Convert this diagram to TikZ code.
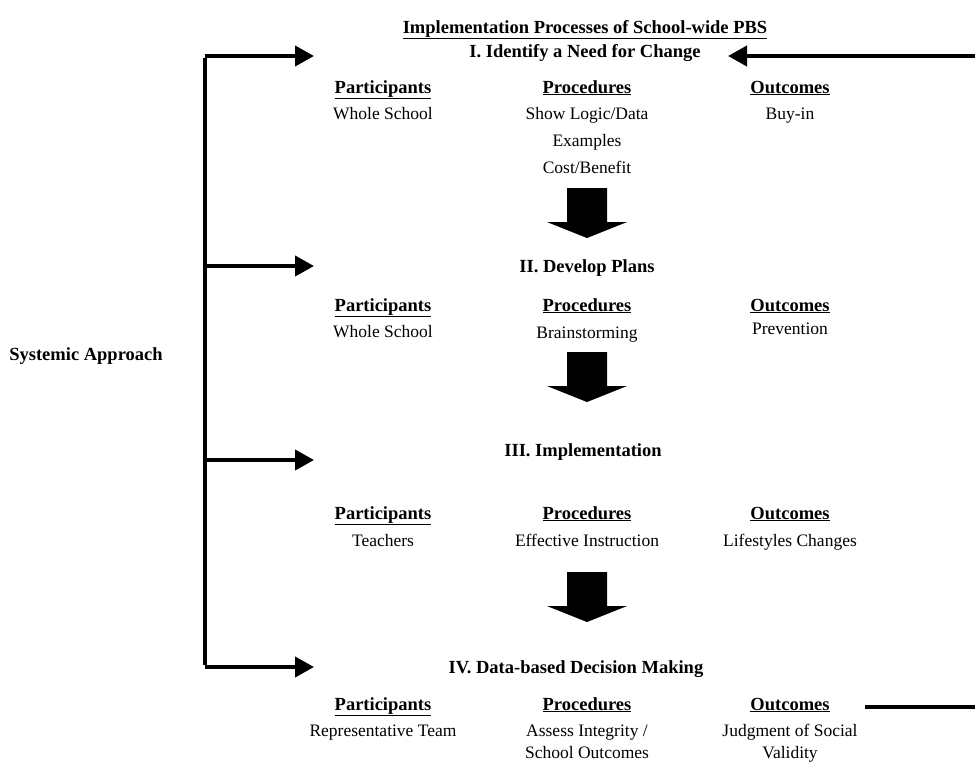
\documentclass[tikz,border=0pt]{standalone}
\usepackage{fontspec}
\setmainfont{Liberation Serif}
\usetikzlibrary{arrows.meta}
\tikzset{
  txt/.style={anchor=base, inner sep=0pt, font=\fontsize{17.5}{20}\selectfont},
  hd/.style={anchor=base, inner sep=0pt, font=\fontsize{18.5}{21}\selectfont\bfseries},
  conn/.style={line width=4pt, -{Triangle[length=19pt,width=20pt]}},
  plain/.style={line width=4pt},
}
\newcommand{\blockarr}[2]{% center x, top y
  \fill (#1-20,#2) -- (#1+20,#2) -- (#1+20,#2+34) -- (#1+40,#2+34) -- (#1,#2+50) -- (#1-40,#2+34) -- (#1-20,#2+34) -- cycle;}
\begin{document}
\begin{tikzpicture}[x=1pt,y=-1pt]
\useasboundingbox (0,0) rectangle (975,763);
% title
\node[hd] (title) at (585,33) {\underline{Implementation Processes of School-wide PBS}};
% section headings
\node[hd] (s1) at (585,57) {I. Identify a Need for Change};
\node[hd] (s2) at (587,272) {II. Develop Plans};
\node[hd] (s3) at (583,456) {III. Implementation};
\node[hd] (s4) at (576,673) {IV. Data-based Decision Making};
% section I
\node[hd] (p1) at (383,93) {\underline{Participants}};
\node[hd] (r1) at (587,93) {\underline{Procedures}};
\node[hd] (o1) at (790,93) {\underline{Outcomes}};
\node[txt] (p1a) at (383,119) {Whole School};
\node[txt] (r1a) at (587,119) {Show Logic/Data};
\node[txt] (r1b) at (587,146) {Examples};
\node[txt] (r1c) at (587,173) {Cost/Benefit};
\node[txt] (o1a) at (790,119) {Buy-in};
% section II
\node[hd] (p2) at (383,311) {\underline{Participants}};
\node[hd] (r2) at (587,311) {\underline{Procedures}};
\node[hd] (o2) at (790,311) {\underline{Outcomes}};
\node[txt] (p2a) at (383,337) {Whole School};
\node[txt] (r2a) at (587,338) {Brainstorming};
\node[txt] (o2a) at (790,334) {Prevention};
% section III
\node[hd] (p3) at (383,519) {\underline{Participants}};
\node[hd] (r3) at (587,519) {\underline{Procedures}};
\node[hd] (o3) at (790,519) {\underline{Outcomes}};
\node[txt] (p3a) at (383,546) {Teachers};
\node[txt] (r3a) at (587,546) {Effective Instruction};
\node[txt] (o3a) at (790,546) {Lifestyles Changes};
% section IV
\node[hd] (p4) at (383,710) {\underline{Participants}};
\node[hd] (r4) at (587,710) {\underline{Procedures}};
\node[hd] (o4) at (790,710) {\underline{Outcomes}};
\node[txt] (p4a) at (383,736) {Representative Team};
\node[txt] (r4a) at (587,736) {Assess Integrity /};
\node[txt] (r4b) at (587,758) {School Outcomes};
\node[txt] (o4a) at (790,736) {Judgment of Social};
\node[txt] (o4b) at (790,758) {Validity};
% systemic approach
\node[hd] (sys) at (86,360) {Systemic Approach};
% block arrows
\blockarr{587}{188}
\blockarr{587}{352}
\blockarr{587}{572}
% bracket
\coordinate (b1) at (205,56);
\coordinate (b2) at (205,266);
\coordinate (b3) at (205,460);
\coordinate (b4) at (205,667);
\coordinate (t1) at (314,56);
\coordinate (t2) at (314,266);
\coordinate (t3) at (314,460);
\coordinate (t4) at (314,667);
\draw[plain] ([yshift=-2pt]b1) -- ([yshift=2pt]b4);
\draw[conn] (b1) -- (t1);
\draw[conn] (b2) -- (t2);
\draw[conn] (b3) -- (t3);
\draw[conn] (b4) -- (t4);
% feedback
\coordinate (rin) at (975,56);
\coordinate (rtip) at (728,56);
\draw[conn] (rin) -- (rtip);
\coordinate (fb0) at (865,707);
\coordinate (fb1) at (975,707);
\draw[plain] (fb0) -- (fb1);
\end{tikzpicture}
\end{document}
